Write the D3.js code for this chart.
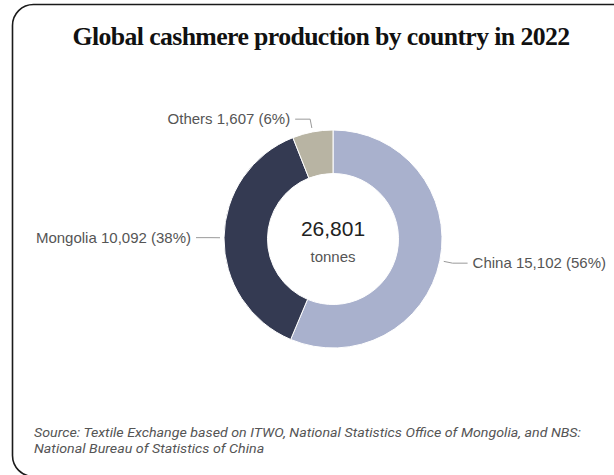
<!DOCTYPE html>
<html>
<head>
<meta charset="utf-8">
<script src="https://cdn.jsdelivr.net/npm/d3@7"></script>
<style>
  html, body { margin: 0; padding: 0; background: #fff; }
  svg { display: block; }
</style>
</head>
<body>
<svg id="chart" width="614" height="475"></svg>
<script>
const countries = ["China", "Mongolia", "Others"];
const production = [15102, 10092, 1607];
const shares = [56, 38, 6];
const colors = ["#a9b1cd", "#343a52", "#b8b4a3"];
const totalLabel = "26,801";
const unitLabel = "tonnes";
const titleText = "Global cashmere production by country in 2022";
const sourceLines = [
  "Source: Textile Exchange based on ITWO, National Statistics Office of Mongolia, and NBS:",
  "National Bureau of Statistics of China"
];

const svg = d3.select("#chart");
const W = 614, H = 475;

// card
svg.append("rect")
  .attr("x", 12.5).attr("y", 4.5)
  .attr("width", 640).attr("height", 472)
  .attr("rx", 21).attr("ry", 21)
  .attr("fill", "#fff").attr("stroke", "#1a1a1a").attr("stroke-width", 1.6);

// title
svg.append("text")
  .attr("x", 321).attr("y", 45)
  .attr("text-anchor", "middle")
  .attr("font-family", "'Liberation Serif', 'DejaVu Serif', serif")
  .attr("font-weight", "bold")
  .attr("font-size", 25.5)
  .attr("letter-spacing", -0.6)
  .attr("textLength", 497)
  .attr("lengthAdjust", "spacingAndGlyphs")
  .attr("fill", "#111")
  .text(titleText);

const cx = 333, cy = 239, rOuter = 109, rInner = 65.5;
const g = svg.append("g").attr("transform", `translate(${cx},${cy})`);

const data = countries.map((c, i) => ({ name: c, value: production[i], share: shares[i], color: colors[i] }));
const pie = d3.pie().value(d => d.value).sort(null);
const arcs = pie(data);
const arc = d3.arc().innerRadius(rInner).outerRadius(rOuter);

g.selectAll("path.slice").data(arcs).enter().append("path")
  .attr("class", "slice")
  .attr("d", arc)
  .attr("fill", d => d.data.color)
  .attr("stroke", "#fff").attr("stroke-width", 1);

// labels with connectors
const fmt = d3.format(",");
const startR = rOuter + 4, elbowR = 122, horiz = 15, gap = 4;
arcs.forEach(a => {
  const mid = (a.startAngle + a.endAngle) / 2;
  const sx = startR * Math.sin(mid), sy = -startR * Math.cos(mid);
  const ex = elbowR * Math.sin(mid), ey = -elbowR * Math.cos(mid);
  const right = Math.sin(mid) >= 0;
  const hx = ex + (right ? horiz : -horiz);
  g.append("path")
    .attr("d", `M${sx},${sy}L${ex},${ey}L${hx},${ey}`)
    .attr("fill", "none").attr("stroke", "#9a9a9a").attr("stroke-width", 1);
  g.append("text")
    .attr("x", hx + (right ? gap + 1 : -gap - 1))
    .attr("y", ey).attr("dy", "0.35em")
    .attr("text-anchor", right ? "start" : "end")
    .attr("font-family", "'Liberation Sans', Arial, sans-serif")
    .attr("font-size", 15)
    .attr("fill", "#555")
    .text(`${a.data.name} ${fmt(a.data.value)} (${a.data.share}%)`);
});

// center text
g.append("text")
  .attr("x", 0).attr("y", -3)
  .attr("text-anchor", "middle")
  .attr("font-family", "'Liberation Sans', Arial, sans-serif")
  .attr("font-size", 21)
  .attr("fill", "#222")
  .text(totalLabel);
g.append("text")
  .attr("x", 0).attr("y", 22.5)
  .attr("text-anchor", "middle")
  .attr("font-family", "'Liberation Sans', Arial, sans-serif")
  .attr("font-size", 15)
  .attr("fill", "#555")
  .text(unitLabel);

// source
const src = svg.selectAll("text.src").data(sourceLines).enter().append("text")
  .attr("class", "src")
  .attr("x", 34).attr("y", (d, i) => 437 + i * 15.5)
  .attr("font-family", "Roboto, 'Liberation Sans', sans-serif")
  .attr("font-style", "italic")
  .attr("font-size", 12.5)
  .attr("fill", "#555")
  .text(d => d);
const firstLen = src.nodes()[0].getComputedTextLength();
const scaleX = 547 / firstLen;
src.each(function () {
  const len = this.getComputedTextLength();
  d3.select(this).attr("textLength", len * scaleX).attr("lengthAdjust", "spacingAndGlyphs");
});
</script>
</body>
</html>
